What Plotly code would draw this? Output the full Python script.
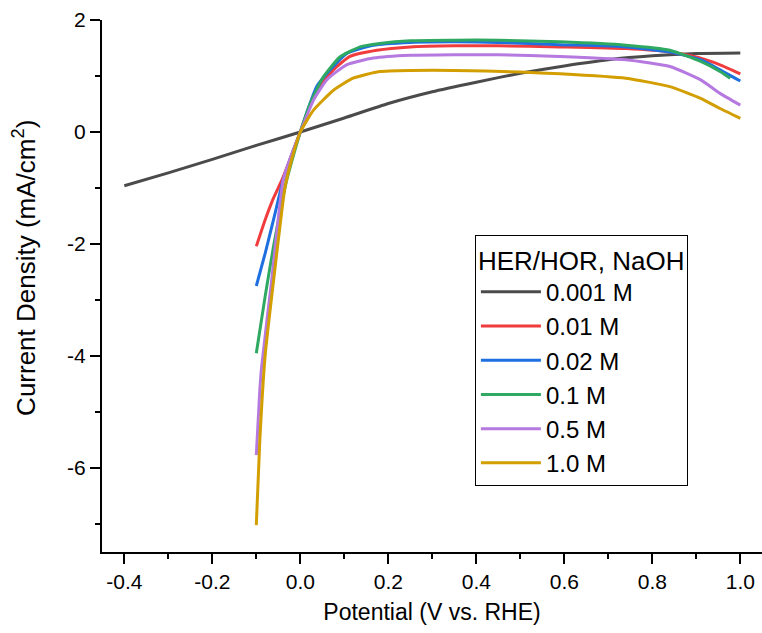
import plotly.graph_objects as go

# ---- data ----
labels = ["0.001 M", "0.01 M", "0.02 M", "0.1 M", "0.5 M", "1.0 M"]
colors = ["#4b4b4b", "#f03c3c", "#1e6fe0", "#2fa862", "#b579e0", "#d29e00"]

x_0001 = [-0.4, -0.3, -0.2, -0.1, 0.0, 0.1, 0.2, 0.3, 0.4, 0.5, 0.6, 0.7, 0.8, 0.9, 1.0]
y_0001 = [-0.96, -0.73, -0.49, -0.24, 0.0, 0.25, 0.51, 0.72, 0.89, 1.05, 1.18, 1.29, 1.36, 1.40, 1.41]

x_001 = [-0.1, -0.08, -0.061, -0.042, -0.02, 0.0, 0.02, 0.045, 0.075, 0.113, 0.174, 0.25, 0.35, 0.45, 0.59, 0.74, 0.84, 0.91, 0.954, 1.0]
y_001 = [-2.04, -1.57, -1.18, -0.86, -0.42, 0.0, 0.42, 0.81, 1.11, 1.35, 1.46, 1.52, 1.54, 1.54, 1.52, 1.49, 1.43, 1.32, 1.20, 1.04]

x_002 = [-0.1, -0.08, -0.061, -0.039, -0.02, 0.0, 0.018, 0.037, 0.068, 0.105, 0.166, 0.25, 0.35, 0.45, 0.59, 0.74, 0.84, 0.91, 0.954, 1.0]
y_002 = [-2.75, -2.17, -1.57, -0.86, -0.42, 0.0, 0.42, 0.81, 1.11, 1.40, 1.55, 1.60, 1.61, 1.60, 1.56, 1.52, 1.43, 1.29, 1.11, 0.91]

x_01 = [-0.1, -0.08, -0.061, -0.031, -0.015, 0.0, 0.022, 0.052, 0.09, 0.136, 0.18, 0.25, 0.35, 0.45, 0.59, 0.74, 0.84, 0.91, 0.954, 0.977]
y_01 = [-3.95, -2.94, -2.05, -0.86, -0.40, 0.0, 0.50, 0.98, 1.34, 1.52, 1.58, 1.63, 1.64, 1.64, 1.61, 1.55, 1.46, 1.26, 1.08, 0.96]

x_05 = [-0.1, -0.092, -0.088, -0.065, -0.039, -0.02, 0.0, 0.03, 0.06, 0.105, 0.166, 0.25, 0.35, 0.45, 0.59, 0.74, 0.84, 0.91, 0.954, 1.0]
y_05 = [-5.77, -4.6, -4.2, -2.64, -0.86, -0.40, 0.0, 0.57, 0.93, 1.20, 1.32, 1.37, 1.38, 1.38, 1.35, 1.29, 1.17, 0.93, 0.69, 0.48]

x_10 = [-0.1, -0.092, -0.08, -0.06, -0.035, -0.02, 0.0, 0.03, 0.076, 0.12, 0.18, 0.25, 0.35, 0.42, 0.5, 0.59, 0.74, 0.84, 0.91, 0.954, 1.0]
y_10 = [-7.02, -5.5, -4.0, -2.6, -1.0, -0.5, 0.0, 0.39, 0.75, 0.96, 1.08, 1.10, 1.10, 1.09, 1.07, 1.04, 0.96, 0.81, 0.60, 0.42, 0.245]

xs = [x_0001, x_001, x_002, x_01, x_05, x_10]
ys = [y_0001, y_001, y_002, y_01, y_05, y_10]

x_ticks = [-0.4, -0.2, 0.0, 0.2, 0.4, 0.6, 0.8, 1.0]
x_ticktext = ["-0.4", "-0.2", "0.0", "0.2", "0.4", "0.6", "0.8", "1.0"]
y_ticks = [2, 0, -2, -4, -6]
y_ticktext = ["2", "0", "-2", "-4", "-6"]

fig = go.Figure()
for i in range(len(labels)):
    fig.add_trace(go.Scatter(
        x=xs[i], y=ys[i], mode="lines", name=labels[i],
        line=dict(color=colors[i], width=3, shape="spline", smoothing=0.5),
    ))

font_family = "Liberation Sans, Arial, sans-serif"
fig.update_layout(
    width=762, height=633,
    margin=dict(l=102, r=0, t=20, b=81),
    paper_bgcolor="white", plot_bgcolor="white",
    font=dict(family=font_family, color="black", size=21),
    showlegend=True,
    legend=dict(
        title=dict(text="HER/HOR, NaOH", font=dict(size=26, family=font_family)),
        font=dict(size=24, family=font_family),
        x=0.565, y=0.596, xanchor="left", yanchor="top",
        bordercolor="black", borderwidth=1, bgcolor="white",
        itemwidth=60,
    ),
    xaxis=dict(
        range=[-0.4507, 1.0493], showgrid=False, zeroline=False,
        showline=True, linecolor="black", linewidth=2,
        tickmode="array", tickvals=x_ticks, ticktext=x_ticktext,
        ticks="outside", ticklen=10, tickwidth=2, tickcolor="black",
        tickfont=dict(size=21),
        minor=dict(dtick=0.1, ticks="outside", ticklen=5, tickwidth=2, tickcolor="black", tick0=0),
        title=dict(text="Potential (V vs. RHE)", font=dict(size=23), standoff=12),
    ),
    yaxis=dict(
        range=[-7.5, 2.0], showgrid=False, zeroline=False,
        showline=True, linecolor="black", linewidth=2,
        tickmode="array", tickvals=y_ticks, ticktext=y_ticktext,
        ticks="outside", ticklen=10, tickwidth=2, tickcolor="black",
        tickfont=dict(size=21),
        minor=dict(dtick=1, ticks="outside", ticklen=5, tickwidth=2, tickcolor="black", tick0=0),
    ),
    annotations=[dict(
        text="Current Density (mA/cm<sup>2</sup>)",
        xref="paper", yref="paper", x=-0.1167, y=0.534,
        xanchor="center", yanchor="middle", textangle=-90,
        showarrow=False, font=dict(size=26, family=font_family),
    )],
)

fig.write_html("out.html")
